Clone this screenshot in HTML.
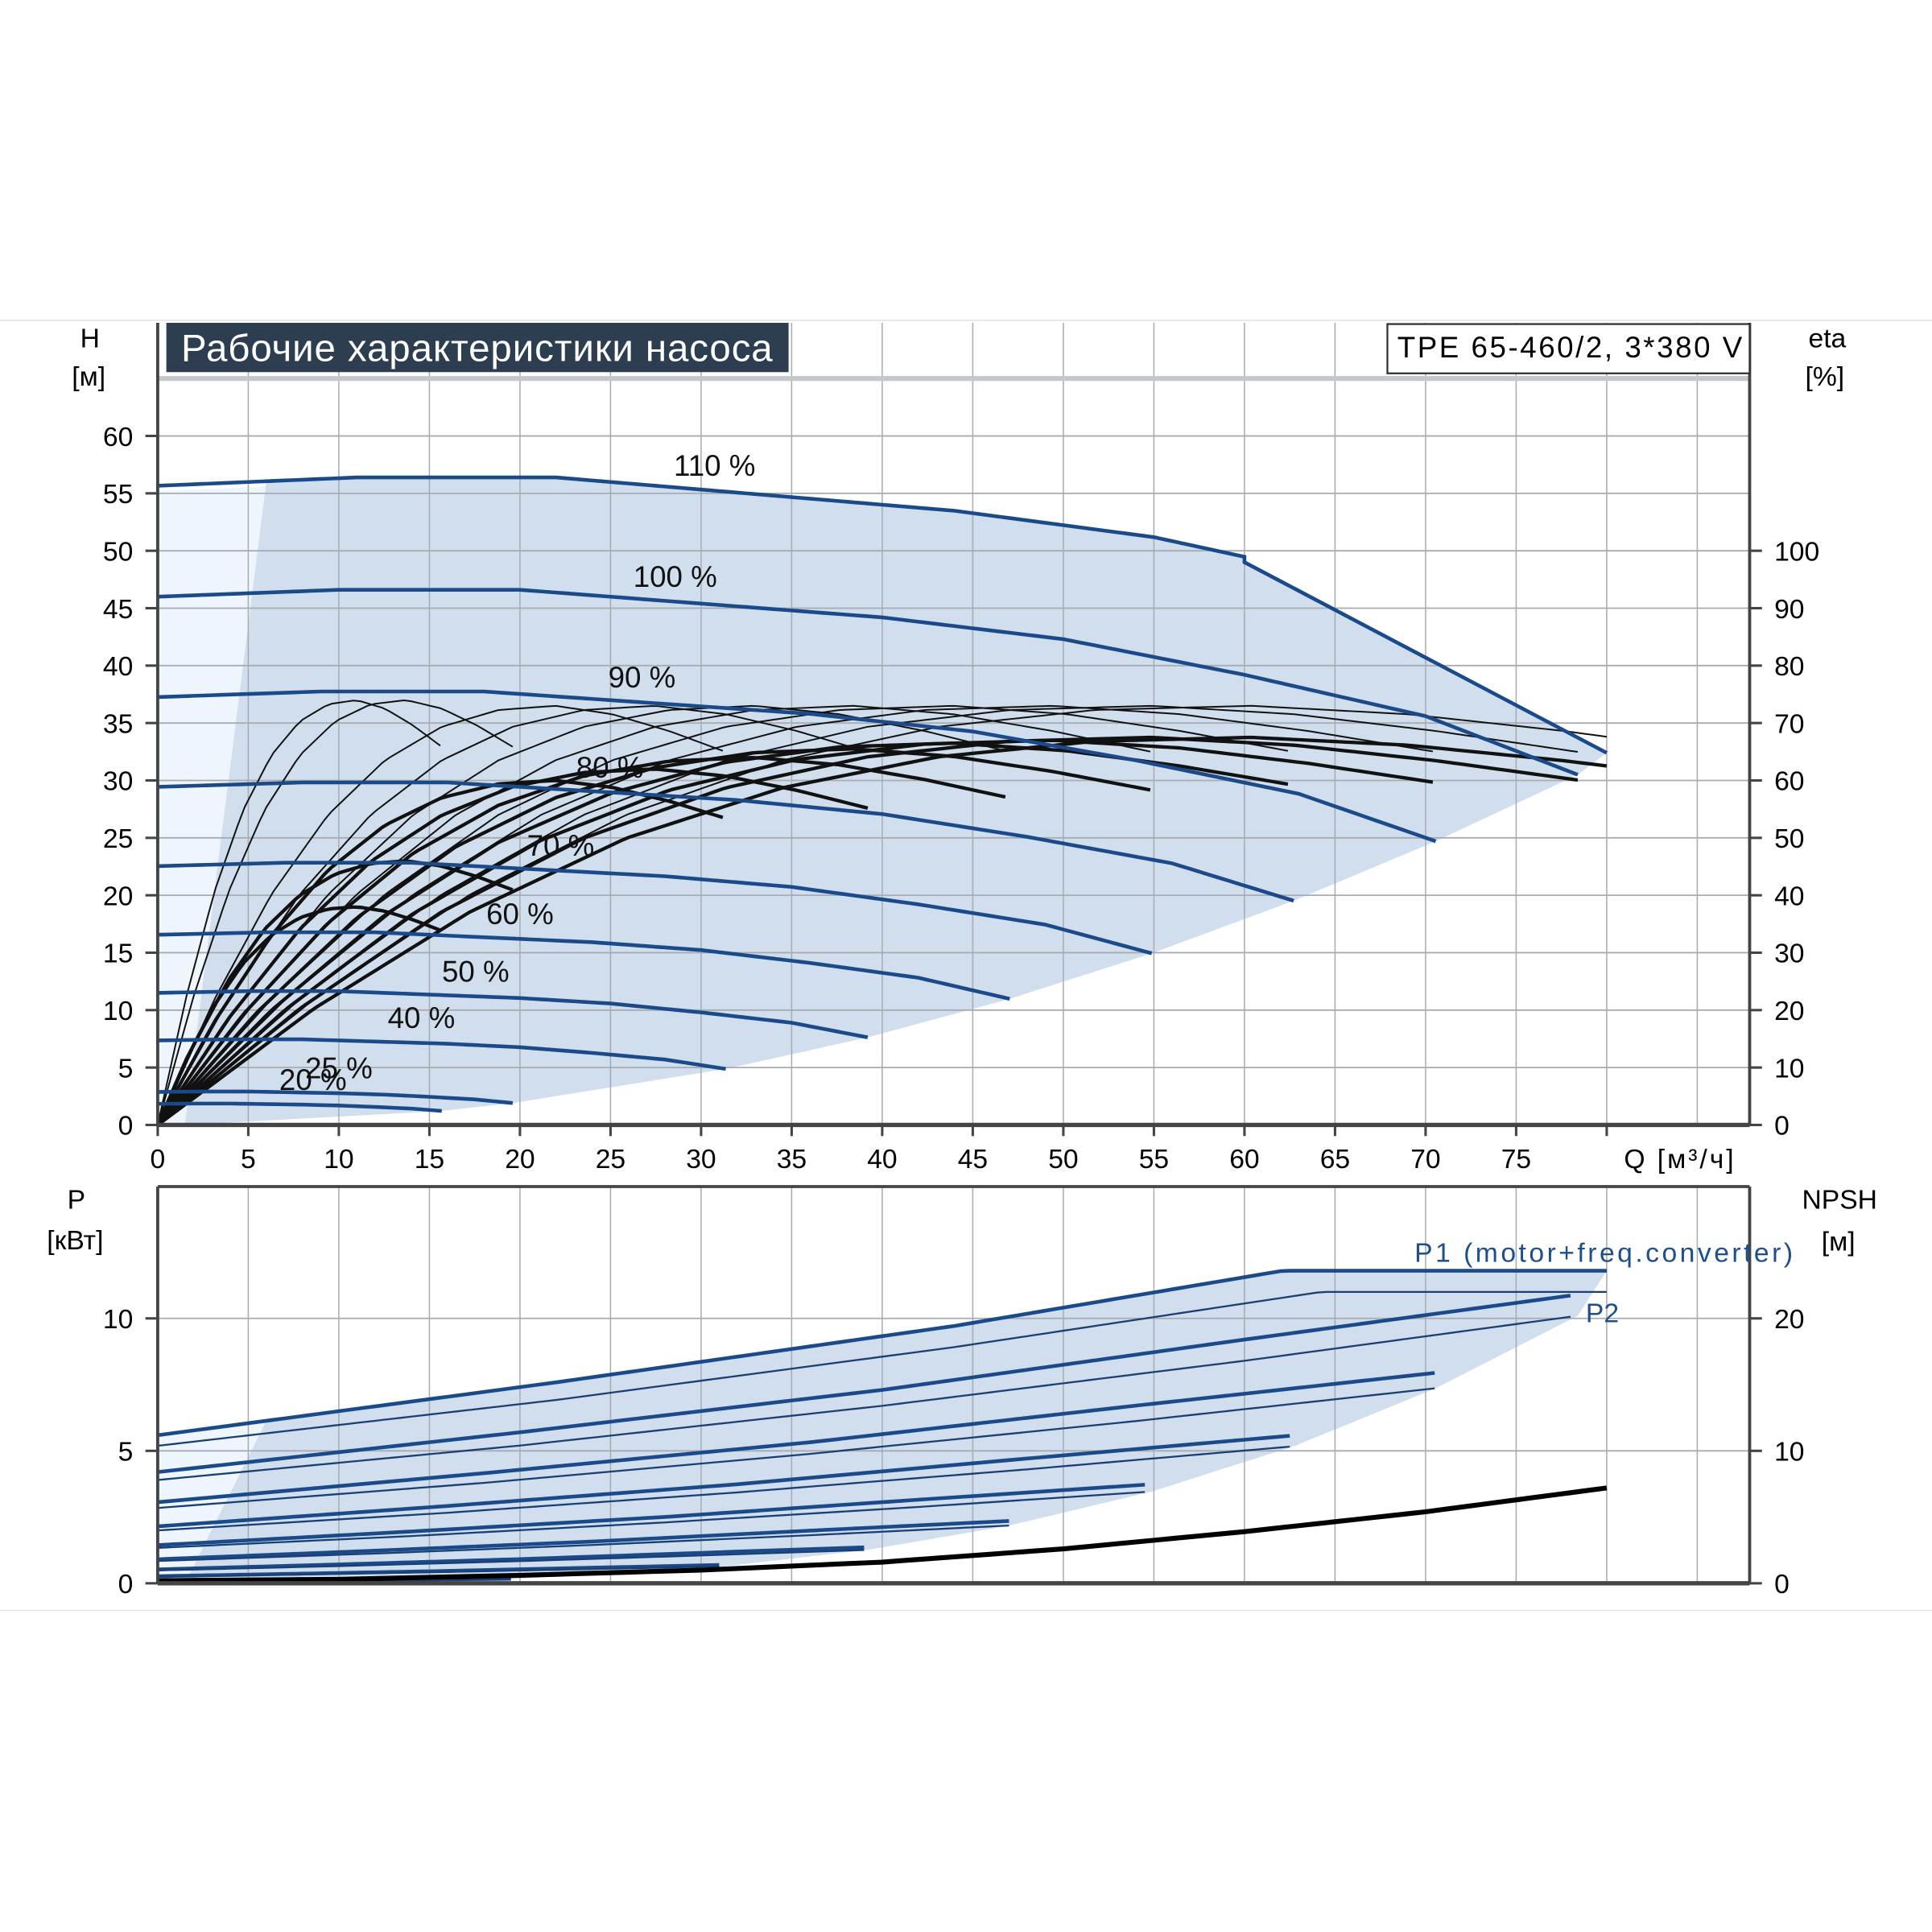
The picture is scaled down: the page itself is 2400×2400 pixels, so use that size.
<!DOCTYPE html>
<html><head><meta charset="utf-8"><style>
html,body{margin:0;padding:0;background:#fff;}
svg{display:block;font-family:"Liberation Sans","DejaVu Sans",sans-serif;}
</style></head><body>
<svg id="chart" width="2400" height="2400" viewBox="0 0 1568 1568" xmlns="http://www.w3.org/2000/svg">
<line x1="0" y1="260" x2="1568" y2="260" stroke="#e4e4e4" stroke-width="1"/>
<line x1="0" y1="1307" x2="1568" y2="1307" stroke="#e4e4e4" stroke-width="1"/>
<g id="top-bg"></g>
<g id="bot-bg"></g>
<g id="grid"></g>
<g id="marks"></g>
<g id="axes"></g>
<rect x="135" y="262" width="505" height="40" fill="#2d3e50"/>
<text x="147" y="293" font-size="31" fill="#fff" textLength="480">Рабочие характеристики насоса</text>
<rect x="1126" y="263" width="294" height="40" fill="#fff" stroke="#333" stroke-width="1.5"/>
<text x="1134" y="290" font-size="24" fill="#000" textLength="280">TPE 65-460/2, 3*380 V</text>
<text x="73" y="282" font-size="22" text-anchor="middle">H</text>
<text x="72" y="313" font-size="22" text-anchor="middle">[м]</text>
<text x="1483" y="282" font-size="22" text-anchor="middle">eta</text>
<text x="1481" y="313" font-size="22" text-anchor="middle">[%]</text>
<text x="1318" y="948" font-size="22" textLength="89">Q [м³/ч]</text>
<text x="62" y="981" font-size="22" text-anchor="middle">P</text>
<text x="61" y="1014" font-size="22" text-anchor="middle">[кВт]</text>
<text x="1493" y="981" font-size="22" text-anchor="middle">NPSH</text>
<text x="1492" y="1015" font-size="22" text-anchor="middle">[м]</text>
<text x="1148" y="1024" font-size="22" fill="#1f4e8c" textLength="307">P1 (motor+freq.converter)</text>
<text x="1287" y="1073" font-size="22" fill="#1f4e8c">P2</text>
</svg>
<script>
// ---- data ----
const speeds = [1.1, 1.0, 0.9, 0.8, 0.7, 0.6, 0.5, 0.4, 0.25, 0.2];
const speedLabels = ["110 %","100 %","90 %","80 %","70 %","60 %","50 %","40 %","25 %","20 %"];
const baseQ = [0, 10, 20, 30, 40, 50, 60, 70, 78.4];
const baseH = [46, 46.6, 46.6, 45.4, 44.2, 42.3, 39.2, 35.6, 30.5];
const limitQ = [60, 80];
const limitH = [49, 32.4];
const etaShapeX = [0,0.1,0.2,0.3,0.4,0.5,0.6,0.7,0.8,0.9,1.0];
const etaShape = [0,0.3,0.55,0.74,0.87,0.95,0.99,1.0,0.98,0.94,0.89];
const etaPumpPeak = [73, 73, 73, 73, 73, 73, 73, 73, 74, 74];
const etaTotalPeak = [67.5, 67.5, 67, 66.5, 65.5, 64, 62, 60, 46, 38];
const powerQ = [0, 20, 40, 60, 78.4];
const p1Base = [4.2, 5.7, 7.3, 9.2, 10.9];
const p2Base = [3.9, 5.2, 6.7, 8.4, 10.1];
const p1Limit = [11.8];
const p2Limit = [11.0];
const npshQ = [0, 10, 20, 30, 40, 50, 60, 70, 80];
const npshM = [0.2, 0.3, 0.6, 1.0, 1.6, 2.6, 3.9, 5.4, 7.2];
const qTicks = [0,5,10,15,20,25,30,35,40,45,50,55,60,65,70,75];
const hTicks = [0,5,10,15,20,25,30,35,40,45,50,55,60];
const etaTicks = [0,10,20,30,40,50,60,70,80,90,100];
const pTicks = [0,5,10];
const npshTicks = [0,10,20];
const labelX = [580, 548, 521, 495, 455, 422, 386, 342, 275, 254];

// ---- scales ----
const X = q => 128 + q*14.7;
const YH = h => 913 - h*9.32;
const YE = e => 913 - e*4.66;
const YP = p => 1285 - p*21.5;
const YN = n => 1285 - n*10.75;
function interp(xs, ys, x){
  if (x<=xs[0]) return ys[0];
  for (let i=1;i<xs.length;i++){ if (x<=xs[i]){const t=(x-xs[i-1])/(xs[i]-xs[i-1]);return ys[i-1]+t*(ys[i]-ys[i-1]);} }
  return ys[ys.length-1];
}
const NS="http://www.w3.org/2000/svg";
function mk(tag, attrs, parent){const e=document.createElementNS(NS,tag);for(const k in attrs)e.setAttribute(k,attrs[k]);parent.appendChild(e);return e;}
const qEnd = s => Math.min(baseQ[baseQ.length-1]*s, 80);
const headAt = (s,q) => s*s*interp(baseQ, baseH, q/s);
function headPts(s){
  const pts=[]; const end=qEnd(s);
  const cap = s>1.05 ? limitQ[0] : end;
  for(let q=0;q<=cap+1e-6;q+=0.5) pts.push([q, headAt(s,q)]);
  if (s>1.05){ for(let i=0;i<limitQ.length;i++) pts.push([limitQ[i], limitH[i]]); }
  else pts.push([end, headAt(s,end)]);
  return pts;
}
const p1At=(s,q)=>s*s*s*interp(powerQ,p1Base,q/s);
const p2At=(s,q)=>s*s*s*interp(powerQ,p2Base,q/s);

const topBg=document.getElementById('top-bg'), botBg=document.getElementById('bot-bg'),
 grid=document.getElementById('grid'), marks=document.getElementById('marks'), axes=document.getElementById('axes');

// backgrounds
const lp = mk('polygon',{points:[[X(0),YH(0)],[X(0),YH(55.2)],[X(6),YH(55.6)],[X(1.5),YH(0)]].join(' '),fill:'#eef5fc'},topBg);


{
  const top = headPts(1.1).filter(p=>p[0]>=6);
  const poly=[[6,headAt(1.1,6)]].concat(top);
  for(let i=1;i<speeds.length;i++){const s=speeds[i];const e=qEnd(s);poly.push([e,headAt(s,e)]);}
  poly.push([1.5,0]);
  const el=mk('polygon',{points:poly.map(p=>X(p[0])+','+YH(p[1])).join(' '),fill:'#d0deed'},topBg);
  
  
}
{
  const l=mk('polygon',{points:[[X(0),YP(0)],[X(0),YP(p1At(1.1,0))],[X(6),YP(p1At(1.1,6))],[X(1.5),YP(0)]].join(' '),fill:'#eef5fc'},botBg);
  
  
  const poly=[];
  for(let q=6;q<=80;q+=1) poly.push([q, Math.min(p1At(1.1,q), p1Limit[0])]);
  for(let i=1;i<speeds.length;i++){const s=speeds[i];const e=qEnd(s);poly.push([e,p2At(s,e)]);}
  poly.push([1.5,0]);
  const el=mk('polygon',{points:poly.map(p=>X(p[0])+','+YP(p[1])).join(' '),fill:'#d0deed'},botBg);
  
  
}

// grid
for(let q=5;q<=85;q+=5){
  const g1=mk('line',{x1:X(q),y1:262,x2:X(q),y2:913,stroke:'#a8acb2','stroke-width':1},grid);
  
  
  const g2=mk('line',{x1:X(q),y1:963,x2:X(q),y2:1285,stroke:'#a8acb2','stroke-width':1},grid);
  
  
}
for(let h=5;h<=65;h+=5){
  const g=mk('line',{x1:128,y1:YH(h),x2:1420,y2:YH(h),stroke:h===65?'#c4c7cc':'#a8acb2','stroke-width':h===65?4:1.2},grid);
  
  
}
for(const p of [5,10]){
  const g=mk('line',{x1:128,y1:YP(p),x2:1420,y2:YP(p),stroke:'#a8acb2','stroke-width':1.2},grid);
  
  
}

// efficiency curves (thin pump, thick total)
speeds.forEach((s,i)=>{
  const end=qEnd(s), span=baseQ[baseQ.length-1]*s;
  const thin=[],thick=[];
  for(let q=0;q<=end+1e-6;q+=0.4){
    const f=interp(etaShapeX,etaShape,q/span);
    thin.push(X(q)+','+YE(etaPumpPeak[i]*f));
    thick.push(X(q)+','+YE(etaTotalPeak[i]*f));
  }
  const a=mk('polyline',{points:thin.join(' '),fill:'none',stroke:'#111','stroke-width':1.3},marks);
  
  
  const b=mk('polyline',{points:thick.join(' '),fill:'none',stroke:'#111','stroke-width':2.8},marks);
  
  
});

// head curves
speeds.forEach((s,i)=>{
  const pts=headPts(s);
  const el=mk('polyline',{points:pts.map(p=>X(p[0])+','+YH(p[1])).join(' '),fill:'none',stroke:'#1a4a8a','stroke-width':3},marks);
  
  
  const qq=Math.min((labelX[i]-128)/14.7,qEnd(s));
  const t=mk('text',{x:labelX[i],y:YH(headAt(s,qq))-12,'font-size':24,'text-anchor':'middle',fill:'#111'},marks);
  t.textContent=speedLabels[i];
  
  
});

// power curves
speeds.forEach((s)=>{
  const end = s>1.05 ? 80 : qEnd(s);
  const a=[],b=[];
  for(let q=0;q<=end+1e-6;q+=0.5){
    a.push(X(q)+','+YP(s>1.05?Math.min(p1At(s,q),p1Limit[0]):p1At(s,q)));
    b.push(X(q)+','+YP(s>1.05?Math.min(p2At(s,q),p2Limit[0]):p2At(s,q)));
  }
  const e1=mk('polyline',{points:a.join(' '),fill:'none',stroke:'#1a4a8a','stroke-width':3},marks);
  
  
  const e2=mk('polyline',{points:b.join(' '),fill:'none',stroke:'#1a3f75','stroke-width':1.5},marks);
  
  
});
{
  const pts=[];for(let q=0;q<=80;q+=1) pts.push(X(q)+','+YN(interp(npshQ,npshM,q)));
  const el=mk('polyline',{points:pts.join(' '),fill:'none',stroke:'#000','stroke-width':4},marks);
  
  
}

// axes
const ax=[[128,262,128,913,2.5],[1420,262,1420,913,2.5],[128,913,1420,913,3.5],[128,963,1420,963,2.5],[128,963,128,1285,2.5],[1420,963,1420,1285,2.5],[128,1285,1420,1285,3.5]];
ax.forEach(a=>{const l=mk('line',{x1:a[0],y1:a[1],x2:a[2],y2:a[3],stroke:'#444','stroke-width':a[4]},axes);
  
  });
qTicks.forEach(q=>{
  const t=mk('text',{x:X(q),y:948,'font-size':22,'text-anchor':'middle'},axes);t.textContent=q;
  
  
  mk('line',{x1:X(q),y1:913,x2:X(q),y2:922,stroke:'#444','stroke-width':2},axes);
});
mk('line',{x1:X(80),y1:913,x2:X(80),y2:922,stroke:'#444','stroke-width':2},axes);
hTicks.forEach(h=>{
  const t=mk('text',{x:108,y:YH(h)+8,'font-size':22,'text-anchor':'end'},axes);t.textContent=h;
  
  
  mk('line',{x1:118,y1:YH(h),x2:128,y2:YH(h),stroke:'#444','stroke-width':2},axes);
});
etaTicks.forEach(e=>{
  const t=mk('text',{x:1440,y:YE(e)+8,'font-size':22},axes);t.textContent=e;
  
  
  mk('line',{x1:1420,y1:YE(e),x2:1430,y2:YE(e),stroke:'#444','stroke-width':2},axes);
});
pTicks.forEach(p=>{
  const t=mk('text',{x:108,y:YP(p)+8,'font-size':22,'text-anchor':'end'},axes);t.textContent=p;
  
  
  mk('line',{x1:118,y1:YP(p),x2:128,y2:YP(p),stroke:'#444','stroke-width':2},axes);
});
npshTicks.forEach(n=>{
  const t=mk('text',{x:1440,y:YN(n)+8,'font-size':22},axes);t.textContent=n;
  
  
  mk('line',{x1:1420,y1:YN(n),x2:1430,y2:YN(n),stroke:'#444','stroke-width':2},axes);
});
</script>
</body></html>
